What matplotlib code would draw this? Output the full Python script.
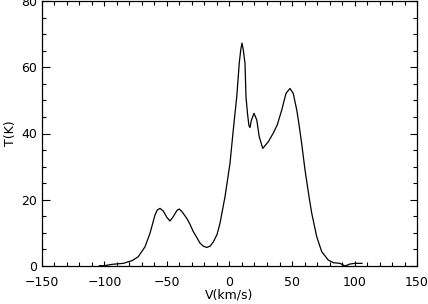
import matplotlib
matplotlib.use("Agg")
import matplotlib.pyplot as plt
from matplotlib.ticker import MultipleLocator

velocity = [-104, -100, -94, -85, -78, -73, -67.6, -63.6, -59.6, -57.8, -55.6, -53, -50,
            -47.6, -45, -42, -40.2, -38, -34.2, -31.6, -29, -26, -23.6, -21, -18.2, -15.5,
            -12.9, -10, -7.6, -3.6, 0.4, 3.0, 5.8, 7.8, 9, 10, 11, 12.4, 13.2, 14.4, 15.5,
            16.4, 17.5, 19.6, 21.8, 23.8, 26.6, 31, 35, 38.2, 41.8, 45.2, 48.4, 51, 53.8,
            55.5, 57.8, 60.4, 61.8, 63.8, 65.8, 69.8, 73.8, 79, 83, 88.4, 92.4, 96.4, 100.4, 106]
temperature = [0.1, 0.1, 0.5, 0.8, 1.6, 2.8, 5.8, 9.9, 15.4, 16.9, 17.4, 16.6, 14.6,
               13.6, 14.9, 16.8, 17.2, 16.4, 14.4, 12.6, 10.4, 8.5, 6.9, 6.0, 5.6, 6.0,
               7.3, 9.5, 12.9, 20.9, 31, 41, 51.1, 61.2, 65.3, 67.3, 65.3, 61.2, 51, 46, 42.5,
               41.8, 44, 46.1, 44.1, 39, 35.5, 37.5, 40.1, 42.6, 47.1, 52.1, 53.6, 52.1, 47.1,
               43, 36.8, 29, 25.5, 20.5, 15.9, 8.8, 4.3, 1.8, 1.0, 0.8, 0.0, 0.6, 0.8, 0.8]

x_label = "V(km/s)"
y_label = "T(K)"

fig = plt.figure(figsize=(4.28, 3.04), dpi=100)
ax = fig.add_axes([42/428, 1 - 266/304, 375/428, 265/304])
ax.plot(velocity, temperature, color="black", linewidth=0.9)
ax.set_xlim(-150, 150)
ax.set_ylim(0, 80)
ax.xaxis.set_major_locator(MultipleLocator(50))
ax.xaxis.set_minor_locator(MultipleLocator(10))
ax.yaxis.set_major_locator(MultipleLocator(20))
ax.yaxis.set_minor_locator(MultipleLocator(5))
ax.tick_params(axis="both", which="both", direction="in", top=True, right=True,
               labelsize=9, width=0.8, color="black")
ax.tick_params(axis="x", which="major", length=3.8, pad=7)
ax.tick_params(axis="x", which="minor", length=3.0)
ax.tick_params(axis="y", which="major", length=5.4, pad=3.5)
ax.tick_params(axis="y", which="minor", length=2.9)
for s in ax.spines.values():
    s.set_linewidth(0.9)
ax.set_xlabel(x_label, fontsize=9, labelpad=0)
ax.set_ylabel(y_label, fontsize=9, labelpad=3)
fig.savefig("out.png", dpi=100)
